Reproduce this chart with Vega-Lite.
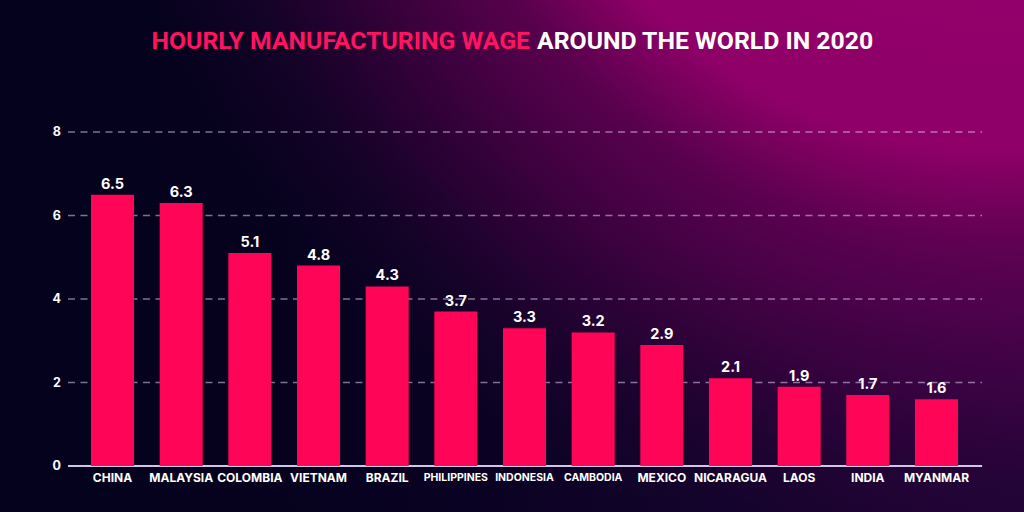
{
  "$schema": "https://vega.github.io/schema/vega-lite/v6.json",
  "width": 1024,
  "height": 512,
  "padding": 0,
  "autosize": {"type": "none"},
  "background": "#05021e",
  "config": {"view": {"stroke": null}},
  "datasets": {
    "wages": [
      {"country": "CHINA", "wage": 6.5},
      {"country": "MALAYSIA", "wage": 6.3},
      {"country": "COLOMBIA", "wage": 5.1},
      {"country": "VIETNAM", "wage": 4.8},
      {"country": "BRAZIL", "wage": 4.3},
      {"country": "PHILIPPINES", "wage": 3.7},
      {"country": "INDONESIA", "wage": 3.3},
      {"country": "CAMBODIA", "wage": 3.2},
      {"country": "MEXICO", "wage": 2.9},
      {"country": "NICARAGUA", "wage": 2.1},
      {"country": "LAOS", "wage": 1.9},
      {"country": "INDIA", "wage": 1.7},
      {"country": "MYANMAR", "wage": 1.6}
    ],
    "gridlines": [{"v": 2}, {"v": 4}, {"v": 6}, {"v": 8}],
    "ticks": [{"v": 0}, {"v": 2}, {"v": 4}, {"v": 6}, {"v": 8}],
    "baseline": [{"v": 0}],
    "bg": [{"layer": "background"}],
    "title1": [{"t": "HOURLY MANUFACTURING WAGE"}],
    "title2": [{"t": "AROUND THE WORLD IN 2020"}]
  },
  "layer": [
    {
      "data": {"name": "bg"},
      "mark": {
        "type": "rect",
        "color": {
          "gradient": "linear",
          "x1": 0, "y1": 0, "x2": 1, "y2": 0,
          "stops": [
            {"offset": 0, "color": "#05021e"},
            {"offset": 0.35, "color": "#07021f"},
            {"offset": 1, "color": "#1c0434"}
          ]
        }
      },
      "encoding": {}
    },
    {
      "data": {"name": "bg"},
      "mark": {
        "type": "rect",
        "color": {
          "gradient": "radial",
          "x1": 0.977, "y1": -0.092, "r1": 0,
          "x2": 0.977, "y2": -0.092, "r2": 1,
          "stops": [
            {"offset": 0, "color": "rgba(158,0,114,1)"},
            {"offset": 0.49, "color": "rgba(142,0,104,1)"},
            {"offset": 0.585, "color": "rgba(134,0,100,0.62)"},
            {"offset": 0.65, "color": "rgba(126,0,98,0.5)"},
            {"offset": 0.81, "color": "rgba(110,0,92,0.12)"},
            {"offset": 0.9, "color": "rgba(100,0,90,0)"}
          ]
        }
      },
      "encoding": {}
    },
    {
      "data": {"name": "gridlines"},
      "mark": {"type": "rule", "color": "#e0d0f0", "opacity": 0.55, "strokeWidth": 1.5, "strokeDash": [7, 5.5]},
      "encoding": {
        "y": {"field": "v", "type": "quantitative", "axis": null,
              "scale": {"domain": [-1.1018, 11.1617], "nice": false, "zero": false}},
        "x": {"datum": "CHINA", "type": "nominal", "bandPosition": -0.535, "axis": null},
        "x2": {"datum": "MYANMAR", "bandPosition": 1.56}
      }
    },
    {
      "data": {"name": "baseline"},
      "mark": {"type": "rule", "color": "#cfc6e6", "strokeWidth": 2},
      "encoding": {
        "y": {"field": "v", "type": "quantitative", "axis": null,
              "scale": {"domain": [-1.1018, 11.1617], "nice": false, "zero": false}},
        "x": {"datum": "CHINA", "type": "nominal", "bandPosition": -0.535, "axis": null},
        "x2": {"datum": "MYANMAR", "bandPosition": 1.56}
      }
    },
    {
      "data": {"name": "wages"},
      "mark": {"type": "bar", "color": "#ff0558"},
      "encoding": {
        "x": {
          "field": "country", "type": "nominal", "sort": null, "axis": null,
          "scale": {
            "domain": ["CHINA", "MALAYSIA", "COLOMBIA", "VIETNAM", "BRAZIL", "PHILIPPINES", "INDONESIA", "CAMBODIA", "MEXICO", "NICARAGUA", "LAOS", "INDIA", "MYANMAR"],
            "range": [68, 981],
            "paddingInner": 0.373, "paddingOuter": 0.335, "align": 0.5
          }
        },
        "y": {
          "field": "wage", "type": "quantitative", "axis": null,
          "scale": {"domain": [-1.1018, 11.1617], "nice": false, "zero": false}
        }
      }
    },
    {
      "data": {"name": "wages"},
      "mark": {"type": "text", "color": "#ffffff", "font": "Inter", "fontWeight": 700, "fontSize": 14.5, "baseline": "alphabetic", "dy": -6},
      "encoding": {
        "x": {"field": "country", "type": "nominal", "sort": null, "axis": null},
        "y": {"field": "wage", "type": "quantitative", "axis": null,
              "scale": {"domain": [-1.1018, 11.1617], "nice": false, "zero": false}},
        "text": {"field": "wage", "type": "quantitative", "format": ".1f"}
      }
    },
    {
      "data": {"name": "wages"},
      "mark": {"type": "text", "color": "#ffffff", "font": "Inter", "fontWeight": 700, "baseline": "top", "align": "center", "dy": 7},
      "encoding": {
        "x": {"field": "country", "type": "nominal", "sort": null, "axis": null},
        "y": {"datum": 0, "type": "quantitative", "axis": null,
              "scale": {"domain": [-1.1018, 11.1617], "nice": false, "zero": false}},
        "text": {"field": "country", "type": "nominal"},
        "size": {"condition": {"test": "datum.country == 'PHILIPPINES' || datum.country == 'INDONESIA' || datum.country == 'CAMBODIA'", "value": 10.5}, "value": 12}
      }
    },
    {
      "data": {"name": "ticks"},
      "mark": {"type": "text", "color": "#ffffff", "font": "Inter", "fontWeight": 700, "fontSize": 12.5, "baseline": "middle", "align": "right", "dx": -7},
      "encoding": {
        "x": {"datum": "CHINA", "type": "nominal", "bandPosition": -0.535, "axis": null},
        "y": {"field": "v", "type": "quantitative", "axis": null,
              "scale": {"domain": [-1.1018, 11.1617], "nice": false, "zero": false}},
        "text": {"field": "v", "type": "quantitative"}
      }
    },
    {
      "data": {"name": "title1"},
      "mark": {"type": "text", "color": "#ff1462", "font": "Roboto", "fontWeight": 700, "fontSize": 24.8, "baseline": "alphabetic", "align": "right"},
      "encoding": {
        "x": {"datum": "INDONESIA", "type": "nominal", "bandPosition": 0.628, "axis": null},
        "y": {"datum": 9.99, "type": "quantitative", "axis": null,
              "scale": {"domain": [-1.1018, 11.1617], "nice": false, "zero": false}},
        "text": {"field": "t", "type": "nominal"}
      }
    },
    {
      "data": {"name": "title2"},
      "mark": {"type": "text", "color": "#ffffff", "font": "Roboto", "fontWeight": 700, "fontSize": 24.8, "baseline": "alphabetic", "align": "left"},
      "encoding": {
        "x": {"datum": "INDONESIA", "type": "nominal", "bandPosition": 0.79, "axis": null},
        "y": {"datum": 9.99, "type": "quantitative", "axis": null,
              "scale": {"domain": [-1.1018, 11.1617], "nice": false, "zero": false}},
        "text": {"field": "t", "type": "nominal"}
      }
    }
  ]
}
